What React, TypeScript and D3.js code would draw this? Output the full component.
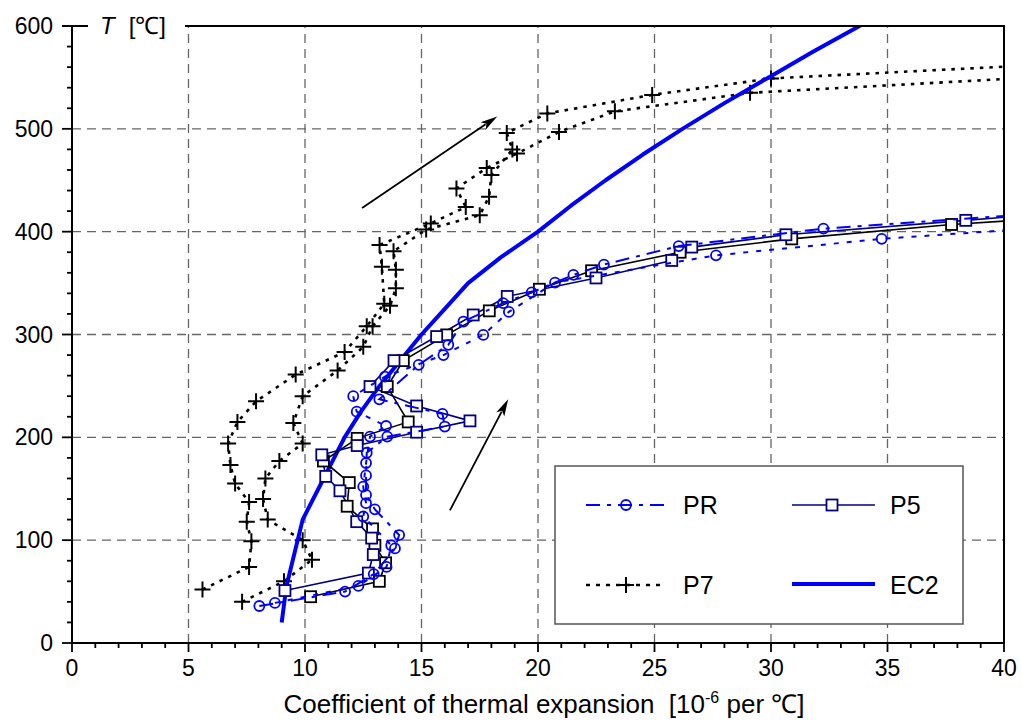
import React from 'react';
import * as d3 from 'd3';

type Pt = [number, number];

const xTicks = [0, 5, 10, 15, 20, 25, 30, 35, 40];
const yTicks = [0, 100, 200, 300, 400, 500, 600];

// P7 specimens (x = CTE, y = T)
const p7a: Pt[] = [[5.6,52],[7.6,74],[7.7,99],[7.5,118],[7.6,137],[7.0,155],[6.8,173],[6.7,194],[7.1,215],[7.9,235],[9.6,261],[11.7,283],[12.65,308],[13.4,330],[13.3,366],[13.2,387],[15.4,408],[16.9,424],[16.5,442],[17.8,462],[19.1,476],[20.9,497],[23.3,517],[29.1,535],[40.5,549]];
const p7b: Pt[] = [[7.3,40],[9.1,60],[10.3,81],[9.9,100],[8.4,120],[8.2,140],[8.3,160],[8.9,177],[9.9,194],[9.5,214],[9.9,240],[11.4,265],[12.5,288],[12.9,308],[13.65,328],[13.9,345],[13.9,363],[13.8,381],[15.2,402],[17.5,416],[17.9,434],[18.0,455],[18.9,480],[18.66,496],[20.4,515],[24.9,533],[30.0,549],[40.5,561]];

// EC2 curve
const ec2: Pt[] = [[9.0,20],[9.2,55],[9.9,120],[10.8,160],[11.7,200],[12.4,225],[13.2,250],[14.1,275],[15.0,300],[16.0,325],[17.0,350],[18.4,375],[20.0,400],[21.4,425],[22.9,450],[24.5,475],[26.2,500],[28.0,525],[29.9,550],[31.8,575],[33.8,600],[34.6,610]];

// P5 specimens
const p5navy: Pt[] = [[9.14,51],[12.72,68],[12.93,86],[12.86,102],[12.22,118],[11.5,148],[10.89,162],[10.72,183],[12.24,192],[14.79,205],[17.08,216],[14.79,230.5],[12.79,249.4],[13.82,274.6],[15.65,298],[17.22,319],[18.68,337],[22.49,355],[25.74,372],[26.6,385],[30.64,397],[38.36,411],[40.5,415]];
const p5black: Pt[] = [[10.24,45],[13.19,60],[13.46,78],[13.0,95],[12.9,111],[11.81,133],[11.9,156],[10.79,177],[12.24,199],[14.43,215],[13.53,249.4],[14.22,274.6],[16.08,299.6],[17.91,323],[20.06,344],[22.3,362],[26.1,380],[30.89,393],[37.75,407],[40.5,411]];

// PR specimens
const prA: Pt[] = [[8.04,36],[11.72,50],[12.95,67],[13.86,92],[14.04,105],[13.0,130],[12.62,144],[12.62,163],[12.65,185],[13.53,200.7],[16.0,210.5],[15.9,222.8],[13.19,237],[14.88,270.5],[16.15,290],[16.8,312.6],[18.5,330.5],[19.73,341],[21.52,358],[22.83,368],[26.04,386],[32.25,403],[40.5,416]];
const prB: Pt[] = [[8.71,39],[12.29,55.5],[13.5,74],[13.7,95],[12.5,123],[12.62,136],[12.5,152],[12.62,175],[12.79,200.7],[13.48,211],[12.22,225],[12.07,240],[13.43,259],[15.94,280],[17.65,299.6],[18.75,322],[20.73,350.5],[27.64,377],[34.75,393],[40.5,402]];

// annotation arrows [from, to]
const arrows: [Pt, Pt][] = [
  [[12.45, 423], [18.25, 512]],
  [[16.22, 129], [18.72, 237]],
];

const FONT = "'Liberation Sans', Arial, sans-serif";
const BLUE = '#0000ff';
const NAVY = '#000080';

export default function App() {
  const x = d3.scaleLinear().domain([0, 40]).range([72, 1004]);
  const y = d3.scaleLinear().domain([0, 600]).range([643, 26]);
  const line = d3.line<Pt>().x(d => x(d[0])).y(d => y(d[1]));

  const minorX = d3.range(0, 41, 1).filter(v => v % 5 !== 0);
  const minorY = d3.range(0, 601, 20).filter(v => v % 100 !== 0);

  const plus = (cx: number, cy: number, s = 8, key?: any) => (
    <path key={key} d={`M${cx - s},${cy}H${cx + s}M${cx},${cy - s}V${cy + s}`} stroke="#000" strokeWidth={2} fill="none" />
  );
  const square = (cx: number, cy: number, color: string, s = 5.5, key?: any) => (
    <rect key={key} x={cx - s} y={cy - s} width={2 * s} height={2 * s} fill="#fff" stroke={color} strokeWidth={1.8} />
  );
  const circle = (cx: number, cy: number, r = 5, key?: any) => (
    <circle key={key} cx={cx} cy={cy} r={r} fill="none" stroke={BLUE} strokeWidth={1.8} />
  );

  const arrowEl = (a: [Pt, Pt], i: number) => {
    const x1 = x(a[0][0]), y1 = y(a[0][1]), x2 = x(a[1][0]), y2 = y(a[1][1]);
    const ang = Math.atan2(y2 - y1, x2 - x1);
    const L = 17, Wd = 4.5;
    const bx = x2 - L * Math.cos(ang), by = y2 - L * Math.sin(ang);
    const px = -Math.sin(ang) * Wd, py = Math.cos(ang) * Wd;
    return (
      <g key={i}>
        <line x1={x1} y1={y1} x2={bx + 3 * Math.cos(ang)} y2={by + 3 * Math.sin(ang)} stroke="#000" strokeWidth={1.8} />
        <path d={`M${x2},${y2}L${bx + px},${by + py}L${bx + 4 * Math.cos(ang)},${by + 4 * Math.sin(ang)}L${bx - px},${by - py}Z`} fill="#000" />
      </g>
    );
  };

  const lx = 555, ly = 466, lw = 408, lh = 158;

  return (
    <svg width={1022} height={726} style={{ position: 'absolute', left: 0, top: 0, background: '#fff' }} fontFamily={FONT}>
      <defs>
        <clipPath id="plot">
          <rect x={72} y={26} width={932} height={617} />
        </clipPath>
      </defs>
      <rect x={0} y={0} width={1022} height={726} fill="#fff" />
      {/* grid */}
      <g stroke="#666" strokeWidth={1.3} strokeDasharray="9,6">
        {xTicks.filter(v => v > 0 && v < 40).map(v => (
          <line key={'gx' + v} x1={x(v)} x2={x(v)} y1={y(0)} y2={y(600)} />
        ))}
        {yTicks.filter(v => v > 0 && v < 600).map(v => (
          <line key={'gy' + v} x1={x(0)} x2={x(40)} y1={y(v)} y2={y(v)} />
        ))}
      </g>

      <g clipPath="url(#plot)">
        {/* P7 */}
        {[p7a, p7b].map((s, i) => (
          <path key={'p7' + i} d={line(s) || ''} fill="none" stroke="#000" strokeWidth={2.6} strokeDasharray="3.5,6" />
        ))}
        {[p7a, p7b].map((s, i) => s.map((d, j) => plus(x(d[0]), y(d[1]), 8, 'p7m' + i + '-' + j)))}
        {/* EC2 */}
        <path d={line(ec2) || ''} fill="none" stroke={BLUE} strokeWidth={4} strokeLinejoin="round" />
        {/* P5 */}
        <path d={line(p5black) || ''} fill="none" stroke="#000" strokeWidth={1.6} />
        <path d={line(p5navy) || ''} fill="none" stroke={NAVY} strokeWidth={1.6} />
        {p5black.map((d, j) => square(x(d[0]), y(d[1]), '#000', 5.5, 'p5b' + j))}
        {p5navy.map((d, j) => square(x(d[0]), y(d[1]), NAVY, 5.5, 'p5n' + j))}
        {/* PR */}
        <path d={line(prA) || ''} fill="none" stroke={BLUE} strokeWidth={2} strokeDasharray="14,7,4,7" />
        <path d={line(prB) || ''} fill="none" stroke={BLUE} strokeWidth={2} strokeDasharray="5,8" />
        {prA.map((d, j) => circle(x(d[0]), y(d[1]), 5, 'pra' + j))}
        {prB.map((d, j) => circle(x(d[0]), y(d[1]), 5, 'prb' + j))}
      </g>

      {arrows.map(arrowEl)}

      {/* frame */}
      <g stroke="#000" strokeWidth={2}>
        <line x1={x(0)} x2={x(0)} y1={y(0) + 1} y2={y(600)} />
        <line x1={x(0) - 1} x2={x(40) + 1} y1={y(0)} y2={y(0)} />
        <line x1={x(40)} x2={x(40)} y1={y(0)} y2={y(600)} />
        <line x1={x(0) - 10} x2={88} y1={y(600)} y2={y(600)} />
        <line x1={185} x2={x(40) + 1} y1={y(600)} y2={y(600)} />
      </g>
      {/* ticks */}
      <g stroke="#000" strokeWidth={1.8}>
        {xTicks.map(v => <line key={'tx' + v} x1={x(v)} x2={x(v)} y1={y(0)} y2={y(0) + 9} />)}
        {minorX.map(v => <line key={'mx' + v} x1={x(v)} x2={x(v)} y1={y(0)} y2={y(0) + 5} />)}
        {yTicks.map(v => <line key={'ty' + v} x1={x(0) - 10} x2={x(0)} y1={y(v)} y2={y(v)} />)}
        {minorY.map(v => <line key={'my' + v} x1={x(0) - 5} x2={x(0)} y1={y(v)} y2={y(v)} />)}
      </g>
      {/* tick labels */}
      <g fontSize={23} fill="#000">
        {xTicks.map(v => (
          <text key={'lx' + v} x={x(v)} y={676} textAnchor="middle">{v}</text>
        ))}
        {yTicks.map(v => (
          <text key={'ly' + v} x={53} y={y(v) + 8} textAnchor="end">{v}</text>
        ))}
      </g>
      {/* axis titles */}
      <text x={100} y={34} fontSize={24} fill="#000">
        <tspan fontStyle="italic">T</tspan>
        <tspan dx={14}>[℃]</tspan>
      </text>
      <text x={544} y={713} fontSize={26} fill="#000" textAnchor="middle" style={{ whiteSpace: 'pre' }}>
        {'Coefficient of thermal expansion\u00a0\u00a0[10'}<tspan fontSize={16} dy={-10}>-6</tspan><tspan dy={10}>{' per ℃]'}</tspan>
      </text>

      {/* legend */}
      <rect x={lx} y={ly} width={lw} height={lh} fill="#fff" stroke="#555" strokeWidth={1.5} />
      <g>
        <line x1={586} x2={668} y1={505} y2={505} stroke={BLUE} strokeWidth={2} strokeDasharray="14,7,4,7" />
        {circle(626, 505, 5)}
        <text x={683} y={514} fontSize={25}>PR</text>
        <line x1={792} x2={875} y1={505} y2={505} stroke={NAVY} strokeWidth={1.6} />
        {square(832, 505, NAVY, 5.5)}
        <text x={890} y={514} fontSize={25}>P5</text>
        <line x1={586} x2={664} y1={585} y2={585} stroke="#000" strokeWidth={2.6} strokeDasharray="4,6" />
        {plus(626, 585, 8)}
        <text x={683} y={594} fontSize={25}>P7</text>
        <line x1={792} x2={875} y1={584} y2={584} stroke={BLUE} strokeWidth={4} />
        <text x={890} y={594} fontSize={25}>EC2</text>
      </g>
    </svg>
  );
}
